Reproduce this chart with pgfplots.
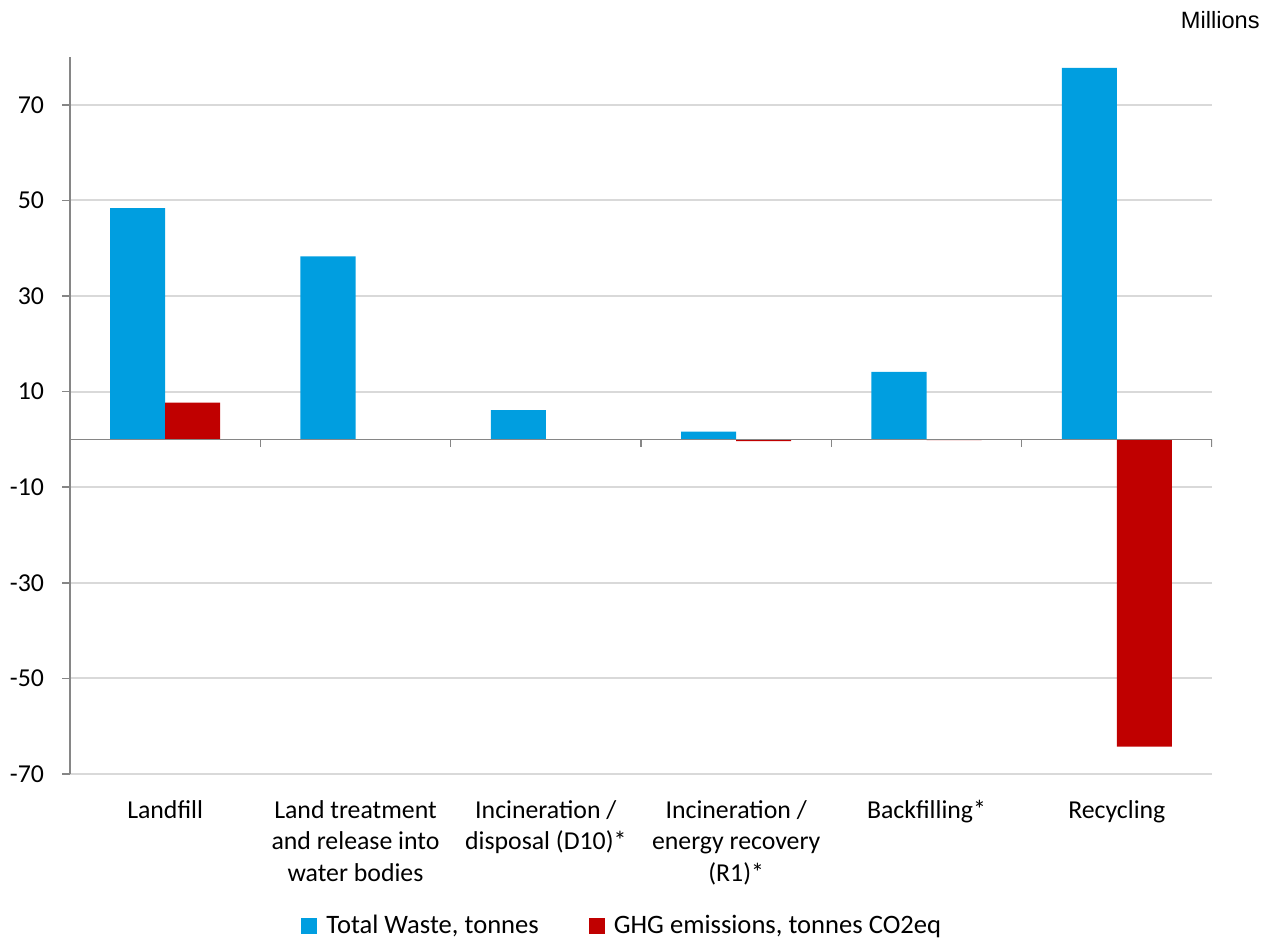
\documentclass[border=0pt]{standalone}
\usepackage{pgfplots}
\pgfplotsset{compat=1.18}
\usepackage{fontspec}
\setmainfont{Carlito}
\newfontfamily\arialfont{Liberation Sans}
\definecolor{tblue}{RGB}{0,158,224}
\definecolor{ghgred}{RGB}{192,0,0}
\definecolor{gridgray}{RGB}{217,217,217}
\definecolor{axisgray}{RGB}{134,134,134}
\begin{document}
\begin{tikzpicture}
\useasboundingbox (-35pt,-83pt) rectangle (599.5pt,387pt);
\begin{axis}[
  scale only axis, width=571pt, height=358.5pt,
  xmin=-0.5, xmax=5.5, ymin=-70, ymax=80,
  axis lines*=left,
  x axis line style={draw=none},
  y axis line style={axisgray, line width=0.8pt},
  xtick={0,1,2,3,4,5},
  xtick style={draw=none},
  xticklabels={Landfill,{Land treatment\\and release into\\water bodies},{Incineration /\\disposal (D10)*},{Incineration /\\energy recovery\\(R1)*},Backfilling*,Recycling},
  xticklabel style={align=center, anchor=north, inner sep=0pt, yshift=-9pt, font=\fontsize{12.9}{15.75}\selectfont},
  ytick={-70,-50,-30,-10,10,30,50,70},
  yticklabels={-70,-50,-30,-10,10,30,50,70},
  yticklabel style={font=\fontsize{12.9}{15.75}\selectfont, xshift=-5.5pt},
  ytick style={axisgray, line width=0.8pt},
  major tick length=4pt, tick align=outside,
  ymajorgrids, grid style={gridgray, line width=1pt},
  bar width=0.289,
  legend columns=2,
  legend style={draw=none, at={(0.2023,-0.212)}, anchor=west, inner sep=0pt,
    font=\fontsize{13.3}{15.75}\selectfont,
    nodes={inner sep=0pt},
    /tikz/every odd column/.append style={column sep=4.5pt},
    /tikz/every even column/.append style={column sep=25pt}},
  legend image code/.code={\fill[#1] (0pt,-4pt) rectangle (8pt,4pt);},
]
\addplot[ybar, bar shift=-0.1445, fill=tblue, draw=none] coordinates {(0,48.4) (1,38.3) (2,6.1) (3,1.6) (4,14.1) (5,77.7)};
\addlegendentry{Total Waste, tonnes}
\addplot[ybar, bar shift=0.1445, fill=ghgred, draw=none] coordinates {(0,7.7) (1,0) (2,0) (3,-0.35) (4,-0.15) (5,-64.3)};
\addlegendentry{GHG emissions, tonnes CO2eq}
\draw[axisgray, line width=0.8pt] (axis cs:-0.5,0) -- (axis cs:5.5,0);
\pgfplotsinvokeforeach{-0.5,0.5,1.5,2.5,3.5,4.5,5.5}{\draw[axisgray, line width=0.8pt] (axis cs:#1,0) -- ++(0pt,-4pt);}
\end{axis}
\node[anchor=base east, inner sep=0pt, font=\arialfont\fontsize{11.8}{14}\selectfont] at (595pt,372.5pt) {Millions};
\end{tikzpicture}
\end{document}
